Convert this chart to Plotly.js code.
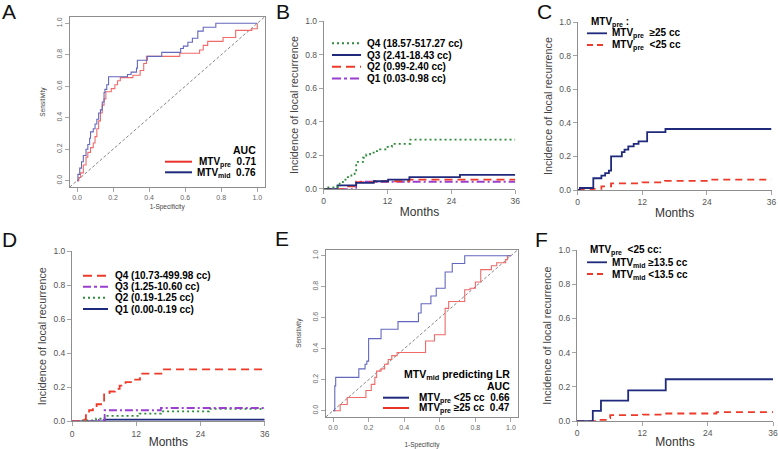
<!DOCTYPE html>
<html>
<head>
<meta charset="utf-8">
<script src="https://cdn.plot.ly/plotly-3.0.1.min.js"></script>
<style>
  html, body { margin: 0; padding: 0; background: #fff; }
  #fig { width: 778px; height: 449px; }
</style>
</head>
<body>
<div id="fig"></div>
<script>
// ---- data ----
const rocTicks = [0, 0.2, 0.4, 0.6, 0.8, 1.0];
const monthTicks = [0, 12, 24, 36];
const incTicks = [0, 0.2, 0.4, 0.6, 0.8, 1.0];

// A: ROC, all patients
const aPreFpr = [0, 0.01, 0.02, 0.035, 0.05, 0.06, 0.075, 0.09, 0.10, 0.11, 0.12, 0.13, 0.14, 0.15, 0.16, 0.19, 0.21, 0.225, 0.24, 0.31, 0.35, 0.37, 0.385, 0.57, 0.68, 0.70, 0.725, 0.81, 0.88, 0.97, 1.0];
const aPreSens = [0, 0.02, 0.05, 0.10, 0.15, 0.18, 0.21, 0.24, 0.28, 0.33, 0.38, 0.43, 0.48, 0.52, 0.565, 0.585, 0.61, 0.635, 0.655, 0.67, 0.70, 0.745, 0.79, 0.81, 0.83, 0.86, 0.885, 0.91, 0.955, 0.965, 1.0];
const aMidFpr = [0, 0.005, 0.015, 0.025, 0.035, 0.05, 0.06, 0.07, 0.075, 0.09, 0.10, 0.11, 0.12, 0.13, 0.14, 0.15, 0.155, 0.165, 0.175, 0.28, 0.30, 0.33, 0.335, 0.39, 0.47, 0.575, 0.59, 0.615, 0.64, 0.67, 0.70, 0.77, 1.0];
const aMidSens = [0, 0.04, 0.08, 0.12, 0.16, 0.20, 0.23, 0.27, 0.31, 0.33, 0.36, 0.39, 0.43, 0.45, 0.50, 0.56, 0.58, 0.61, 0.66, 0.675, 0.69, 0.715, 0.765, 0.79, 0.815, 0.84, 0.855, 0.88, 0.905, 0.95, 0.975, 1.0, 1.0];

// B: MTVpre quartiles
const bQ4T = [0, 0.5, 2.6, 3.0, 3.6, 4.3, 5.2, 5.8, 6.1, 7.4, 8.0, 8.7, 9.6, 10.6, 11.6, 12.8, 16.3, 36];
const bQ4V = [0, 0.008, 0.02, 0.04, 0.055, 0.07, 0.087, 0.11, 0.16, 0.185, 0.205, 0.215, 0.225, 0.235, 0.25, 0.268, 0.293, 0.293];
const bQ3T = [0, 2.6, 6.1, 9.4, 12.1, 16.1, 25.6, 36];
const bQ3V = [0, 0.02, 0.035, 0.045, 0.055, 0.07, 0.083, 0.083];
const bQ2T = [0, 4.3, 6.1, 9.5, 16.1, 36];
const bQ2V = [0, 0.015, 0.04, 0.045, 0.055, 0.055];
const bQ1T = [0, 6.1, 36];
const bQ1V = [0, 0.042, 0.042];

// C: MTVpre >=25 vs <25
const cHiT = [0, 0.4, 2.9, 4.4, 5.1, 5.8, 6.2, 8.2, 8.7, 9.4, 10.4, 11.3, 12.9, 16.3, 36];
const cHiV = [0, 0.012, 0.07, 0.085, 0.10, 0.115, 0.20, 0.225, 0.24, 0.26, 0.275, 0.29, 0.345, 0.363, 0.363];
const cLoT = [0, 2.8, 4.4, 6.2, 12.0, 16.2, 25.0, 36];
const cLoV = [0, 0.007, 0.022, 0.04, 0.045, 0.054, 0.062, 0.062];

// D: MTVmid quartiles
const dQ4T = [0, 1.6, 2.6, 3.2, 3.9, 4.6, 6.0, 7.0, 8.0, 8.9, 10.0, 11.2, 12.7, 16.7, 36];
const dQ4V = [0, 0.01, 0.05, 0.065, 0.08, 0.10, 0.165, 0.175, 0.19, 0.21, 0.23, 0.245, 0.28, 0.305, 0.305];
const dQ3T = [0, 5.0, 6.1, 16.6, 36];
const dQ3V = [0, 0.008, 0.065, 0.078, 0.078];
const dQ2T = [0, 2.0, 4.5, 6.1, 12.6, 16.6, 25.6, 36];
const dQ2V = [0, 0.005, 0.015, 0.032, 0.045, 0.058, 0.073, 0.073];
const dQ1T = [0, 6.1, 36];
const dQ1V = [0, 0.01, 0.01];

// E: ROC of MTVmid by MTVpre group
const eLoFpr = [0, 0.01, 0.015, 0.145, 0.18, 0.19, 0.20, 0.27, 0.365, 0.48, 0.495, 0.55, 0.58, 0.63, 0.67, 0.74, 1.0];
const eLoSens = [0, 0.16, 0.215, 0.27, 0.30, 0.32, 0.465, 0.525, 0.575, 0.63, 0.69, 0.74, 0.79, 0.895, 0.95, 1.0, 1.0];
const eHiFpr = [0, 0.04, 0.08, 0.185, 0.215, 0.235, 0.245, 0.27, 0.29, 0.31, 0.33, 0.36, 0.52, 0.57, 0.63, 0.65, 0.74, 0.77, 0.80, 0.83, 0.89, 0.92, 0.97, 0.98, 1.0];
const eHiSens = [0, 0.04, 0.085, 0.13, 0.17, 0.215, 0.255, 0.27, 0.30, 0.33, 0.355, 0.375, 0.45, 0.49, 0.66, 0.705, 0.78, 0.79, 0.83, 0.91, 0.935, 0.955, 0.975, 1.0, 1.0];

// F: MTVpre <25, split by MTVmid 13.5
const fHiT = [0, 2.9, 4.4, 9.4, 16.3, 36];
const fHiV = [0, 0.06, 0.12, 0.18, 0.245, 0.245];
const fLoT = [0, 3.6, 5.5, 6.1, 12.1, 16.2, 25.6, 36];
const fLoV = [0, 0.008, 0.018, 0.035, 0.038, 0.045, 0.053, 0.053];

const diag = [-0.04, 1.04];

// ---- styles ----
const NAVY = '#1f2a7c';
const RED = '#ee3a2a';
const GREEN = '#2e8b3a';
const PURPLE = '#9a3fd0';
const ROC_RED = '#f06a6a';
const ROC_BLUE = '#6468bd';
const AXIS = '#8e8e8e';
const FONT = 'Liberation Sans, Arial, sans-serif';

const W = 778, H = 449;
const px = v => v / W;
const py = v => 1 - v / H;

function km(x, y, xa, ya, color, dash) {
    return {x: x, y: y, xaxis: xa, yaxis: ya, type: 'scatter', mode: 'lines',
        line: {shape: 'hv', color: color, width: 1.8, dash: dash || 'solid'}, hoverinfo: 'skip'};
}
function roc(x, y, xa, ya, color) {
    return {x: x, y: y, xaxis: xa, yaxis: ya, type: 'scatter', mode: 'lines',
        line: {shape: 'hv', color: color, width: 1.1}, hoverinfo: 'skip'};
}
function refLine(xa, ya) {
    return {x: diag, y: diag, xaxis: xa, yaxis: ya, type: 'scatter', mode: 'lines',
        line: {color: '#666', width: 0.8, dash: '3px,2px'}, hoverinfo: 'skip'};
}

var data = [
    refLine('x', 'y'),
    roc(aPreFpr, aPreSens, 'x', 'y', ROC_RED),
    roc(aMidFpr, aMidSens, 'x', 'y', ROC_BLUE),

    km(bQ1T, bQ1V, 'x2', 'y2', PURPLE, '8px,3px,2px,3px'),
    km(bQ2T, bQ2V, 'x2', 'y2', RED, '8px,5px'),
    km(bQ3T, bQ3V, 'x2', 'y2', NAVY),
    km(bQ4T, bQ4V, 'x2', 'y2', GREEN, '2px,3px'),

    km(cLoT, cLoV, 'x3', 'y3', RED, '7px,5px'),
    km(cHiT, cHiV, 'x3', 'y3', NAVY),

    km(dQ1T, dQ1V, 'x4', 'y4', NAVY),
    km(dQ2T, dQ2V, 'x4', 'y4', GREEN, '2px,3px'),
    km(dQ3T, dQ3V, 'x4', 'y4', PURPLE, '8px,3px,2px,3px'),
    km(dQ4T, dQ4V, 'x4', 'y4', RED, '8px,5px'),

    refLine('x5', 'y5'),
    roc(eHiFpr, eHiSens, 'x5', 'y5', ROC_RED),
    roc(eLoFpr, eLoSens, 'x5', 'y5', ROC_BLUE),

    km(fLoT, fLoV, 'x6', 'y6', RED, '7px,5px'),
    km(fHiT, fHiV, 'x6', 'y6', NAVY)
];

function rocAxis(domain, anchor, isY, title, standoff) {
    return {
        domain: domain, anchor: anchor, range: [-0.04, 1.04],
        tickvals: rocTicks, tickformat: '.1f', ticks: 'outside', ticklen: 4,
        tickcolor: AXIS, tickwidth: 0.8, showline: true, mirror: true,
        linecolor: AXIS, linewidth: 1, showgrid: false, zeroline: false,
        tickangle: isY ? -90 : 0,
        tickfont: {family: FONT, size: 7, color: '#666'},
        title: {text: title, standoff: standoff, font: {family: FONT, size: 6.5, color: '#444'}}
    };
}
function kmAxis(domain, anchor, isY, standoff) {
    return {
        domain: domain, anchor: anchor, range: isY ? [0, 1] : [0, 36],
        tickvals: isY ? incTicks : monthTicks, tickformat: isY ? '.1f' : 'd',
        ticks: 'outside', ticklen: 4, tickcolor: AXIS, tickwidth: 0.8,
        showline: true, linecolor: AXIS, linewidth: 1,
        showgrid: false, zeroline: false,
        tickfont: {family: FONT, size: 8.5, color: '#555'},
        title: isY
            ? {text: 'Incidence of local recurrence', standoff: standoff, font: {family: FONT, size: 10.8, color: '#444'}}
            : {text: 'Months', standoff: standoff, font: {family: FONT, size: 12, color: '#333'}}
    };
}

// legends drawn as text + sample lines
var annotations = [];
var shapes = [];

function letter(t, x, y) {
    annotations.push({text: t, xref: 'paper', yref: 'paper', x: px(x), y: py(y),
        xanchor: 'center', yanchor: 'middle', showarrow: false, borderpad: 0,
        font: {family: FONT, size: 21, color: '#111'}});
}
function label(t, x, y, anchor, size) {
    annotations.push({text: t, xref: 'paper', yref: 'paper', x: px(x), y: py(y),
        xanchor: anchor || 'left', yanchor: 'middle', showarrow: false,
        borderpad: 0,
        font: {family: FONT, size: size || 10, color: '#000'}});
}
function sample(x0, x1, y, color, dash, width) {
    shapes.push({type: 'line', xref: 'paper', yref: 'paper',
        x0: px(x0), x1: px(x1), y0: py(y), y1: py(y),
        line: {color: color, width: width || 2, dash: dash || 'solid'}});
}

letter('A', 9, 11);
letter('B', 283, 11);
letter('C', 544, 11);
letter('D', 9, 239);
letter('E', 282, 238);
letter('F', 541, 239);

// A legend
label('<b>AUC</b>', 257, 150, 'right', 10.5);
sample(165, 192, 161.7, '#e8322a', 'solid', 2);
label('<b>MTV<sub>pre</sub>  0.71</b>', 257, 162.3, 'right', 10);
sample(165, 192, 172.3, '#1f2a7c', 'solid', 2);
label('<b>MTV<sub>mid</sub>  0.76</b>', 257, 173.3, 'right', 10);

// B legend
sample(332, 361, 43.3, GREEN, '2px,3px', 2);
label('<b>Q4 (18.57-517.27 cc)</b>', 366, 43.3);
sample(332, 361, 55, NAVY, 'solid', 2);
label('<b>Q3 (2.41-18.43 cc)</b>', 366, 55);
sample(332, 361, 66.7, RED, '9px,5px', 2);
label('<b>Q2 (0.99-2.40 cc)</b>', 366, 66.7);
sample(332, 361, 78.5, PURPLE, '9px,3px,3px,3px', 2);
label('<b>Q1 (0.03-0.98 cc)</b>', 366, 78.5);

// C legend
label('<b>MTV<sub>pre</sub> :</b>', 590, 22, 'left', 10);
sample(587, 607, 33.3, NAVY, 'solid', 1.8);
label('<b>MTV<sub>pre</sub>&nbsp; ≥25 cc</b>', 611, 34, 'left', 10);
sample(587, 607, 45, RED, '6px,4px', 1.8);
label('<b>MTV<sub>pre</sub>&nbsp; &lt;25 cc</b>', 611, 45.7, 'left', 10);

// D legend
sample(83, 108, 275.7, RED, '9px,5px', 2);
label('<b>Q4 (10.73-499.98 cc)</b>', 114, 275.7);
sample(83, 108, 286.7, PURPLE, '8px,3px,3px,3px', 2);
label('<b>Q3 (1.25-10.60 cc)</b>', 114, 286.7);
sample(83, 108, 297.7, GREEN, '2px,3px', 2);
label('<b>Q2 (0.19-1.25 cc)</b>', 114, 297.7);
sample(83, 108, 309, NAVY, 'solid', 2);
label('<b>Q1 (0.00-0.19 cc)</b>', 114, 309);

// E legend
label('<b>MTV<sub>mid</sub> predicting LR</b>', 511, 375, 'right', 10.5);
label('<b>AUC</b>', 511, 385.7, 'right', 10.5);
sample(383, 409, 397.7, '#1f2a7c', 'solid', 2);
label('<b>MTV<sub>pre</sub> &lt;25 cc  0.66</b>', 511, 398.4, 'right', 10);
sample(383, 409, 408, '#e8322a', 'solid', 2);
label('<b>MTV<sub>pre</sub> ≥25 cc  0.47</b>', 511, 408.8, 'right', 10);

// F legend
label('<b>MTV<sub>pre</sub>&nbsp; &lt;25 cc:</b>', 589, 251, 'left', 10);
sample(587, 607, 262.3, NAVY, 'solid', 1.8);
label('<b>MTV<sub>mid</sub> ≥13.5 cc</b>', 611, 263, 'left', 10);
sample(587, 607, 274, RED, '6px,4px', 1.8);
label('<b>MTV<sub>mid</sub> &lt;13.5 cc</b>', 611, 274.7, 'left', 10);

var layout = {
    width: W, height: H,
    margin: {l: 0, r: 0, t: 0, b: 0},
    paper_bgcolor: '#fff', plot_bgcolor: '#fff',
    showlegend: false,
    font: {family: FONT},
    // A
    xaxis: rocAxis([px(69.8), px(264.5)], 'y', false, '1-Specificity', 4),
    yaxis: rocAxis([py(187), py(17)], 'x', true, 'Sensitivity', 9),
    // B
    xaxis2: kmAxis([px(323.7), px(515.3)], 'y2', false, 2),
    yaxis2: kmAxis([py(188.8), py(21)], 'x2', true, 4),
    // C
    xaxis3: kmAxis([px(577.7), px(771.5)], 'y3', false, 2),
    yaxis3: kmAxis([py(190), py(22)], 'x3', true, 4),
    // D
    xaxis4: kmAxis([px(72), px(264.7)], 'y4', false, 2),
    yaxis4: kmAxis([py(421.3), py(251)], 'x4', true, 4),
    // E
    xaxis5: rocAxis([px(325.9), px(518.1)], 'y5', false, '1-Specificity', 12),
    yaxis5: rocAxis([py(416.9), py(249.5)], 'x5', true, 'Sensitivity', 9),
    // F
    xaxis6: kmAxis([px(577), px(773)], 'y6', false, 2),
    yaxis6: kmAxis([py(421.2), py(250)], 'x6', true, 4),
    annotations: annotations,
    shapes: shapes
};

Plotly.newPlot('fig', data, layout, {staticPlot: true});
</script>
</body>
</html>
